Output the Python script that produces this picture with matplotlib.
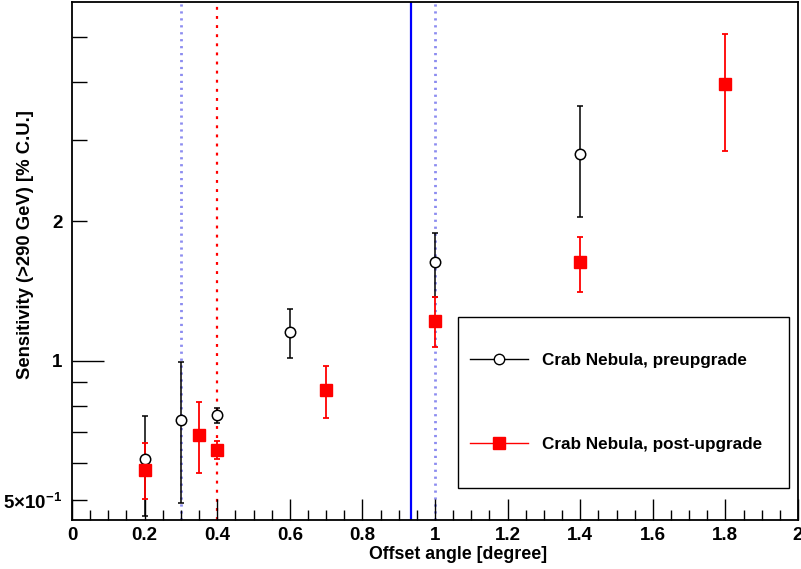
import numpy as np
import matplotlib.pyplot as plt
from matplotlib.lines import Line2D
from matplotlib.patches import Rectangle
from matplotlib.ticker import FixedLocator, FuncFormatter, MultipleLocator

plt.rcParams['font.family'] = ['Liberation Sans', 'DejaVu Sans']
plt.rcParams['font.weight'] = 'bold'
plt.rcParams['mathtext.fontset'] = 'custom'
plt.rcParams['mathtext.rm'] = 'Liberation Sans:bold'
plt.rcParams['mathtext.bf'] = 'Liberation Sans:bold'

# --- data ---
pre_x = [0.2, 0.3, 0.4, 0.6, 1.0, 1.4]
pre_y = [0.612, 0.743, 0.762, 1.152, 1.63, 2.80]
pre_hi = [0.760, 0.992, 0.792, 1.291, 1.89, 3.555]
pre_lo = [0.462, 0.492, 0.732, 1.012, 1.375, 2.04]

post_x = [0.2, 0.35, 0.4, 0.7, 1.0, 1.4, 1.8]
post_y = [0.582, 0.692, 0.642, 0.863, 1.22, 1.63, 3.96]
post_hi = [0.663, 0.813, 0.672, 0.972, 1.371, 1.85, 5.08]
post_lo = [0.502, 0.573, 0.612, 0.753, 1.07, 1.41, 2.84]

lavender_lines = [0.3, 1.0]
red_line = 0.4
blue_line = 0.934

pre_label = 'Crab Nebula, preupgrade'
post_label = 'Crab Nebula, post-upgrade'


def main():
    fig = plt.figure(figsize=(8.01, 5.69), dpi=100)
    ax = fig.add_axes([72 / 801, 49 / 569, 726 / 801, 518 / 569])

    # vertical marker lines
    for xv in lavender_lines:
        ax.axvline(xv, color='#8c8cf0', lw=2.0, dashes=(0.8, 1.7), zorder=1)
    ax.axvline(red_line, color='red', lw=1.6, dashes=(1.3, 2.8), zorder=1)
    ax.axvline(blue_line, color='blue', lw=1.6, zorder=1)

    pre_y_a = np.array(pre_y)
    pre_err = [pre_y_a - np.array(pre_lo), np.array(pre_hi) - pre_y_a]
    post_y_a = np.array(post_y)
    post_err = [post_y_a - np.array(post_lo), np.array(post_hi) - post_y_a]

    ax.errorbar(pre_x, pre_y, yerr=pre_err, fmt='o', color='black', mfc='white',
                mec='black', ms=7.5, mew=1.1, elinewidth=1.1, capsize=2.2, capthick=1.1, zorder=3)
    ax.errorbar(post_x, post_y, yerr=post_err, fmt='s', color='red', mfc='red',
                mec='red', ms=8, elinewidth=1.3, capsize=2.2, capthick=1.3, zorder=3)

    # axes
    ax.set_xlim(0, 2)
    ax.set_yscale('log')
    ax.set_ylim(0.453, 5.95)

    ax.xaxis.set_major_locator(MultipleLocator(0.2))
    ax.xaxis.set_minor_locator(MultipleLocator(0.05))
    ax.xaxis.set_major_formatter(FuncFormatter(lambda v, p: '%g' % round(v, 2)))

    ax.yaxis.set_major_locator(FixedLocator([1]))
    ax.yaxis.set_major_formatter(FuncFormatter(lambda v, p: '1'))
    ax.yaxis.set_minor_locator(FixedLocator([0.5, 0.6, 0.7, 0.8, 0.9, 2, 3, 4, 5]))
    minor_labels = {0.5: r'5$\times$10$^{-1}$', 2: '2'}
    ax.yaxis.set_minor_formatter(FuncFormatter(
        lambda v, p: minor_labels.get(round(v, 2), '')))

    ax.tick_params(axis='x', which='major', direction='in', length=15, width=1,
                   labelsize=13.5, pad=5, top=False)
    ax.tick_params(axis='x', which='minor', direction='in', length=7.5, width=1, top=False)
    ax.tick_params(axis='y', which='major', direction='in', length=23, width=1,
                   labelsize=13.5, pad=7, right=False)
    ax.tick_params(axis='y', which='minor', direction='in', length=11, width=1,
                   labelsize=13.5, pad=7, right=False)
    for lab in ax.get_xticklabels() + ax.get_yticklabels(which='both'):
        lab.set_fontweight('bold')

    for sp in ax.spines.values():
        sp.set_linewidth(1.3)

    ax.set_xlabel('Offset angle [degree]', fontsize=12.8, fontweight='bold')
    ax.xaxis.set_label_coords(0.532, -0.05)
    ax.set_ylabel('Sensitivity (>290 GeV) [% C.U.]', fontsize=13.3, fontweight='bold')
    ax.yaxis.set_label_coords(-0.053, 0.531)

    # legend box
    ax.add_patch(Rectangle((0.531, 0.0618), 0.4565, 0.3307, transform=ax.transAxes,
                           facecolor='white', edgecolor='black', lw=1, zorder=4))
    handles = [
        Line2D([], [], color='black', lw=1, marker='o', mfc='white', mec='black', ms=7.5),
        Line2D([], [], color='red', lw=1, marker='s', mfc='red', mec='red', ms=8),
    ]
    leg = ax.legend(handles, [pre_label, post_label], loc='center left',
                    bbox_to_anchor=(0.548, 0.2268), frameon=False, fontsize=12.3,
                    borderpad=0, borderaxespad=0, labelspacing=4.0,
                    handlelength=3.4, handletextpad=0.8, numpoints=1)
    leg.set_zorder(5)
    for t in leg.get_texts():
        t.set_fontweight('bold')

    fig.savefig('out.png', dpi=100)


if __name__ == '__main__':
    main()
